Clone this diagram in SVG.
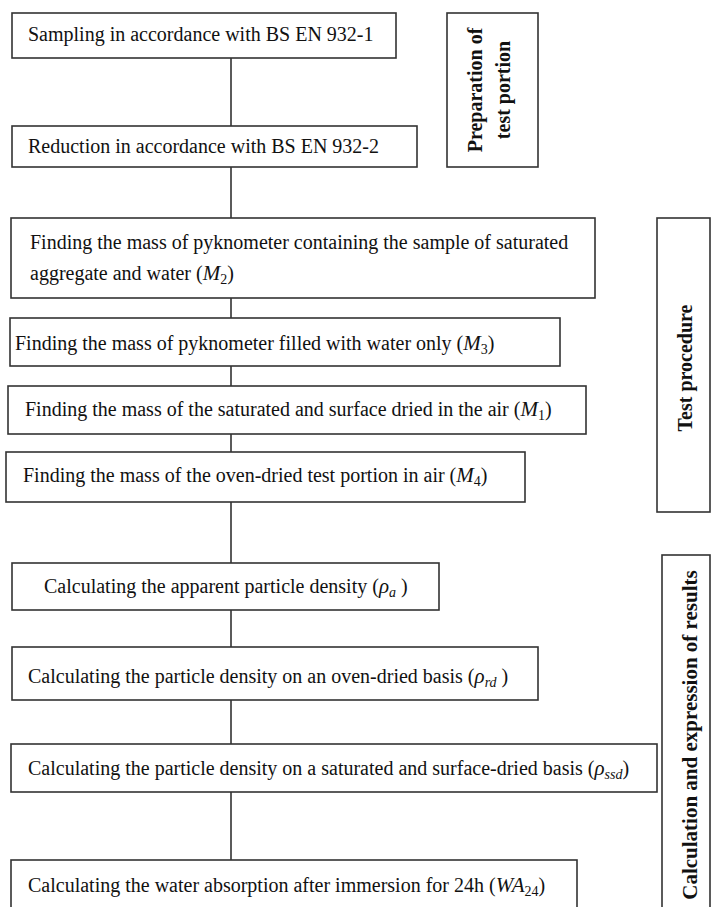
<svg xmlns="http://www.w3.org/2000/svg" width="711" height="907" viewBox="0 0 711 907">
<style>
.box{fill:#fff;stroke:#333;stroke-width:1.6}
.t{font-family:"Liberation Serif","Times New Roman",serif;font-size:20px;fill:#111}
.m{font-style:italic;font-size:21px}
.s{font-size:14px}
.si{font-size:14px;font-style:italic}
.v{font-family:"Liberation Serif","Times New Roman",serif;font-size:20px;font-weight:bold;fill:#111;text-anchor:middle}
.c{stroke:#333;stroke-width:1.6;fill:none}
</style>
<rect width="711" height="907" fill="#fff"/>
<g id="connectors">
<path class="c" d="M231 58V126M231 167V218M231 298V318M231 366V386M231 434V452M231 502V563M231 610V647M231 700V744M231 792V860"/>
</g>
<g id="n1"><rect class="box" x="12" y="13" width="384" height="45"/><text class="t" x="28" y="41">Sampling in accordance with BS EN 932-1</text></g>
<g id="n2"><rect class="box" x="12" y="126" width="405" height="41"/><text class="t" x="28" y="153">Reduction in accordance with BS EN 932-2</text></g>
<g id="prep"><rect class="box" x="447" y="13" width="91" height="154"/><text class="v" transform="translate(475,90) rotate(-90)" y="7">Preparation of</text><text class="v" transform="translate(503,90) rotate(-90)" y="7">test portion</text></g>
<g id="n3"><rect class="box" x="11" y="218" width="584" height="80"/><text class="t" x="30" y="249">Finding the mass of pyknometer containing the sample of saturated</text><text class="t" x="30" y="280">aggregate and water (<tspan class="m">M</tspan><tspan class="s" dy="4">2</tspan><tspan dy="-4">)</tspan></text></g>
<g id="n4"><rect class="box" x="10" y="318" width="550" height="48"/><text class="t" x="15" y="350">Finding the mass of pyknometer filled with water only (<tspan class="m">M</tspan><tspan class="s" dy="4">3</tspan><tspan dy="-4">)</tspan></text></g>
<g id="n5"><rect class="box" x="8" y="386" width="578" height="48"/><text class="t" x="25" y="416">Finding the mass of the saturated and surface dried in the air (<tspan class="m">M</tspan><tspan class="s" dy="4">1</tspan><tspan dy="-4">)</tspan></text></g>
<g id="n6"><rect class="box" x="6" y="452" width="519" height="50"/><text class="t" x="23" y="482">Finding the mass of the oven-dried test portion in air (<tspan class="m">M</tspan><tspan class="s" dy="4">4</tspan><tspan dy="-4">)</tspan></text></g>
<g id="tp"><rect class="box" x="657" y="218" width="53" height="294"/><text class="v" transform="translate(685,368) rotate(-90)" y="7">Test procedure</text></g>
<g id="n7"><rect class="box" x="12" y="563" width="427" height="47"/><text class="t" x="44" y="593">Calculating the apparent particle density (<tspan class="m">ρ</tspan><tspan class="si" dy="4">a</tspan><tspan dy="-4"> )</tspan></text></g>
<g id="n8"><rect class="box" x="12" y="647" width="526" height="53"/><text class="t" x="28" y="683">Calculating the particle density on an oven-dried basis (<tspan class="m">ρ</tspan><tspan class="si" dy="4">rd</tspan><tspan dy="-4"> )</tspan></text></g>
<g id="n9"><rect class="box" x="11" y="744" width="646" height="48"/><text class="t" x="28" y="775">Calculating the particle density on a saturated and surface-dried basis (<tspan class="m">ρ</tspan><tspan class="si" dy="4">ssd</tspan><tspan dy="-4">)</tspan></text></g>
<g id="n10"><rect class="box" x="11" y="860" width="566" height="52"/><text class="t" x="28" y="892">Calculating the water absorption after immersion for 24h (<tspan class="m">WA</tspan><tspan class="s" dy="4">24</tspan><tspan dy="-4">)</tspan></text></g>
<g id="calc"><rect class="box" x="662" y="555" width="48" height="360"/><text class="v" style="font-size:21px" transform="translate(690,735) rotate(-90)" y="7">Calculation and expression of results</text></g>
</svg>
